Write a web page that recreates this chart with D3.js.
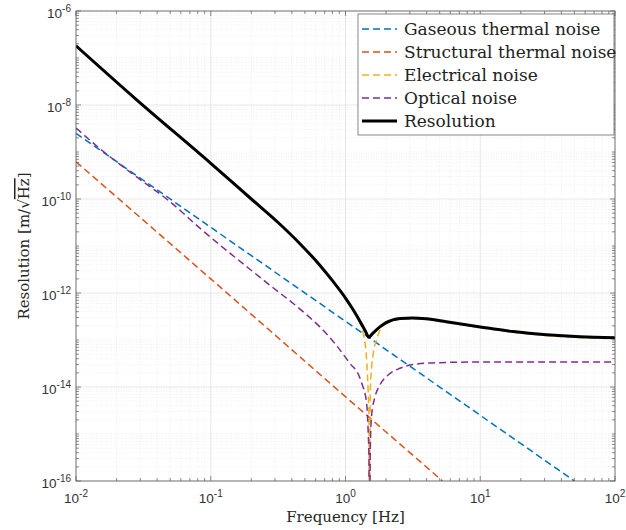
<!DOCTYPE html>
<html>
<head>
<meta charset="utf-8">
<script src="https://cdn.jsdelivr.net/npm/d3@7"></script>
<style>
body { margin: 0; background: #fff; }
</style>
</head>
<body>
<div id="chart"></div>
<script>
// values: frequency [Hz] and resolution [m/sqrt(Hz)]
var gasFreq = [0.01, 0.1, 1, 10, 50];
var gasValue = [2.5e-9, 2.5e-11, 2.5e-13, 2.5e-15, 1.0e-16];

var structFreq = [0.01, 0.1, 1, 5.25];
var structValue = [6.2e-10, 2.0e-12, 6.2e-15, 1.0e-16];

var elecFreq = [0.01, 0.0282, 0.1, 0.2, 0.316, 0.459, 0.631, 0.811, 1.0, 1.14, 1.26, 1.355, 1.435, 1.475, 1.493, 1.50,
  1.53, 1.607, 1.70, 1.80, 2.0, 2.54, 3.16, 4.0, 5.6, 10, 17.6, 31, 55, 100];
var elecValue = [1.82e-7, 1.29e-8, 5.75e-10, 1.0e-10, 3.16e-11, 1.12e-11, 4.2e-12, 1.74e-12, 7.6e-13, 4.2e-13, 2.5e-13, 1.38e-13, 3.7e-14, 7.4e-15, 2.5e-15, 1e-18,
  1.0e-14, 5.2e-14, 1.0e-13, 1.6e-13, 2.2e-13, 2.78e-13, 2.85e-13, 2.72e-13, 2.37e-13, 1.84e-13, 1.46e-13, 1.24e-13, 1.12e-13, 1.07e-13];

var optFreq = [0.01, 0.0158, 0.0282, 0.05, 0.083, 0.245, 0.5, 0.646, 0.85, 1.08, 1.26, 1.32, 1.435, 1.475, 1.493, 1.50,
  1.53, 1.563, 1.656, 1.80, 2.08, 2.54, 3.16, 5.0, 10, 100];
var optValue = [3.24e-9, 1.05e-9, 2.95e-10, 8.7e-11, 2.4e-11, 1.9e-12, 3.7e-13, 1.9e-13, 7.9e-14, 3.16e-14, 1.74e-14, 1.2e-14, 4.5e-15, 1.0e-15, 3.2e-16, 1e-18,
  6.3e-16, 2.5e-15, 6.2e-15, 1.1e-14, 1.82e-14, 2.5e-14, 3.0e-14, 3.3e-14, 3.4e-14, 3.4e-14];

var resFreq = [0.01, 0.0282, 0.1, 0.2, 0.316, 0.459, 0.631, 0.811, 1.0, 1.14, 1.32, 1.41, 1.49, 1.58, 1.80, 2.0, 2.54, 3.16, 4.0, 5.6,
  10, 17.6, 31, 55, 100];
var resValue = [1.82e-7, 1.29e-8, 5.75e-10, 1.0e-10, 3.16e-11, 1.12e-11, 4.2e-12, 1.74e-12, 7.8e-13, 4.4e-13, 2.14e-13, 1.51e-13, 1.15e-13, 1.35e-13, 1.9e-13, 2.34e-13, 2.88e-13, 2.95e-13, 2.82e-13, 2.45e-13,
  1.9e-13, 1.51e-13, 1.29e-13, 1.17e-13, 1.12e-13];

var xTicks = [1e-2, 1e-1, 1e0, 1e1, 1e2];
var xTickExp = ['-2', '-1', '0', '1', '2'];
var yTicks = [1e-16, 1e-14, 1e-12, 1e-10, 1e-8, 1e-6];
var yTickExp = ['-16', '-14', '-12', '-10', '-8', '-6'];

var seriesNames = ['Gaseous thermal noise', 'Structural thermal noise', 'Electrical noise', 'Optical noise', 'Resolution'];
var seriesColors = ['#0072bd', '#d95319', '#edb120', '#7e2f8e', '#000000'];

var width = 626, height = 530;
var margin = { top: 11, right: 11, bottom: 49, left: 76 };
var plotW = width - margin.left - margin.right;
var plotH = height - margin.top - margin.bottom;

var x = d3.scaleLog().domain([1e-2, 1e2]).range([0, plotW]);
var y = d3.scaleLog().domain([1e-16, 1e-6]).range([plotH, 0]);

var svg = d3.select('#chart').append('svg')
  .attr('width', width)
  .attr('height', height);

var g = svg.append('g')
  .attr('transform', 'translate(' + margin.left + ',' + margin.top + ')');

// minor / major values for grid and ticks
var xMinor = [], yMinor = [];
for (var e = -2; e < 2; e++) {
  for (var k = 2; k <= 9; k++) xMinor.push(k * Math.pow(10, e));
}
for (var e2 = -16; e2 < -6; e2++) {
  for (var k2 = 1; k2 <= 9; k2++) {
    if (k2 === 1 && e2 % 2 === 0) continue;
    yMinor.push(k2 * Math.pow(10, e2));
  }
}

// grid
var grid = g.append('g');
grid.selectAll('.xminor').data(xMinor).enter().append('line')
  .attr('x1', function(d) { return x(d); }).attr('x2', function(d) { return x(d); })
  .attr('y1', 0).attr('y2', plotH)
  .attr('stroke', '#e6e6e6').attr('stroke-width', 0.6).attr('stroke-dasharray', '1,1.5');
grid.selectAll('.yminor').data(yMinor).enter().append('line')
  .attr('y1', function(d) { return y(d); }).attr('y2', function(d) { return y(d); })
  .attr('x1', 0).attr('x2', plotW)
  .attr('stroke', '#e6e6e6').attr('stroke-width', 0.6).attr('stroke-dasharray', '1,1.5');
grid.selectAll('.xmajor').data(xTicks).enter().append('line')
  .attr('x1', function(d) { return x(d); }).attr('x2', function(d) { return x(d); })
  .attr('y1', 0).attr('y2', plotH)
  .attr('stroke', '#e2e2e2').attr('stroke-width', 0.8);
grid.selectAll('.ymajor').data(yTicks).enter().append('line')
  .attr('y1', function(d) { return y(d); }).attr('y2', function(d) { return y(d); })
  .attr('x1', 0).attr('x2', plotW)
  .attr('stroke', '#e2e2e2').attr('stroke-width', 0.8);

// curves
g.append('clipPath').attr('id', 'clip')
  .append('rect').attr('width', plotW).attr('height', plotH);

var line = d3.line()
  .x(function(d) { return x(d[0]); })
  .y(function(d) { return y(d[1]); })
  .curve(d3.curveMonotoneX);

var series = [
  { f: gasFreq, v: gasValue },
  { f: structFreq, v: structValue },
  { f: elecFreq, v: elecValue },
  { f: optFreq, v: optValue },
  { f: resFreq, v: resValue }
];

var curves = g.append('g').attr('clip-path', 'url(#clip)');
series.forEach(function(s, i) {
  var pts = s.f.map(function(f, j) { return [f, s.v[j]]; });
  curves.append('path')
    .datum(pts)
    .attr('d', line)
    .attr('fill', 'none')
    .attr('stroke', seriesColors[i])
    .attr('stroke-width', i === 4 ? 3 : 1.5)
    .attr('stroke-dasharray', i === 4 ? null : '7,4');
});

// axes box and ticks
var axisColor = '#5a5a5a';
g.append('rect')
  .attr('width', plotW).attr('height', plotH)
  .attr('fill', 'none').attr('stroke', axisColor).attr('stroke-width', 0.8);

var ticks = g.append('g').attr('stroke', axisColor).attr('stroke-width', 0.7);
function xTickMarks(vals, len) {
  vals.forEach(function(d) {
    ticks.append('line').attr('x1', x(d)).attr('x2', x(d)).attr('y1', plotH).attr('y2', plotH - len);
    ticks.append('line').attr('x1', x(d)).attr('x2', x(d)).attr('y1', 0).attr('y2', len);
  });
}
function yTickMarks(vals, len) {
  vals.forEach(function(d) {
    ticks.append('line').attr('y1', y(d)).attr('y2', y(d)).attr('x1', 0).attr('x2', len);
    ticks.append('line').attr('y1', y(d)).attr('y2', y(d)).attr('x1', plotW).attr('x2', plotW - len);
  });
}
xTickMarks(xTicks, 5);
xTickMarks(xMinor, 3);
yTickMarks(yTicks, 5);
yTickMarks(yMinor, 3);

// tick labels
var tickFont = 'Liberation Sans, Arial, sans-serif';
var xl = g.selectAll('.xlabel').data(xTicks).enter().append('text')
  .attr('x', function(d) { return x(d); })
  .attr('y', plotH + 22)
  .attr('text-anchor', 'middle')
  .attr('font-family', tickFont)
  .attr('font-size', 13.5)
  .attr('fill', '#333');
xl.append('tspan').text('10');
xl.append('tspan').attr('dy', -6).attr('font-size', 10).text(function(d, i) { return xTickExp[i]; });

var yl = g.selectAll('.ylabel').data(yTicks).enter().append('text')
  .attr('x', -5)
  .attr('y', function(d) { return y(d) + 7; })
  .attr('text-anchor', 'end')
  .attr('font-family', tickFont)
  .attr('font-size', 13.5)
  .attr('fill', '#333');
yl.append('tspan').text('10');
yl.append('tspan').attr('dy', -6).attr('font-size', 10).text(function(d, i) { return yTickExp[i]; });

// axis titles
var labelFont = 'DejaVu Serif, serif';
svg.append('text')
  .attr('x', margin.left + plotW / 2)
  .attr('y', 522)
  .attr('text-anchor', 'middle')
  .attr('font-family', labelFont)
  .attr('font-size', 15)
  .attr('fill', '#262626')
  .text('Frequency [Hz]');

var yt = svg.append('text')
  .attr('transform', 'translate(29,' + (margin.top + plotH / 2) + ') rotate(-90)')
  .attr('text-anchor', 'middle')
  .attr('font-family', labelFont)
  .attr('font-size', 15)
  .attr('fill', '#262626');
yt.append('tspan').text('Resolution [m/\u221A');
yt.append('tspan').style('text-decoration', 'overline').text('Hz');
yt.append('tspan').text(']');

// legend
var lg = svg.append('g');
lg.append('rect')
  .attr('x', 358).attr('y', 14).attr('width', 256).attr('height', 121)
  .attr('fill', '#fff').attr('stroke', '#555').attr('stroke-width', 0.7);
seriesNames.forEach(function(name, i) {
  var ly = 29 + i * 23;
  lg.append('line')
    .attr('x1', 362).attr('x2', 397).attr('y1', ly).attr('y2', ly)
    .attr('stroke', seriesColors[i])
    .attr('stroke-width', i === 4 ? 3 : 1.5)
    .attr('stroke-dasharray', i === 4 ? null : '7,4');
  lg.append('text')
    .attr('x', 404).attr('y', ly).attr('dy', '0.35em')
    .attr('font-family', labelFont)
    .attr('font-size', 17)
    .attr('fill', '#222')
    .text(name);
});
</script>
</body>
</html>
